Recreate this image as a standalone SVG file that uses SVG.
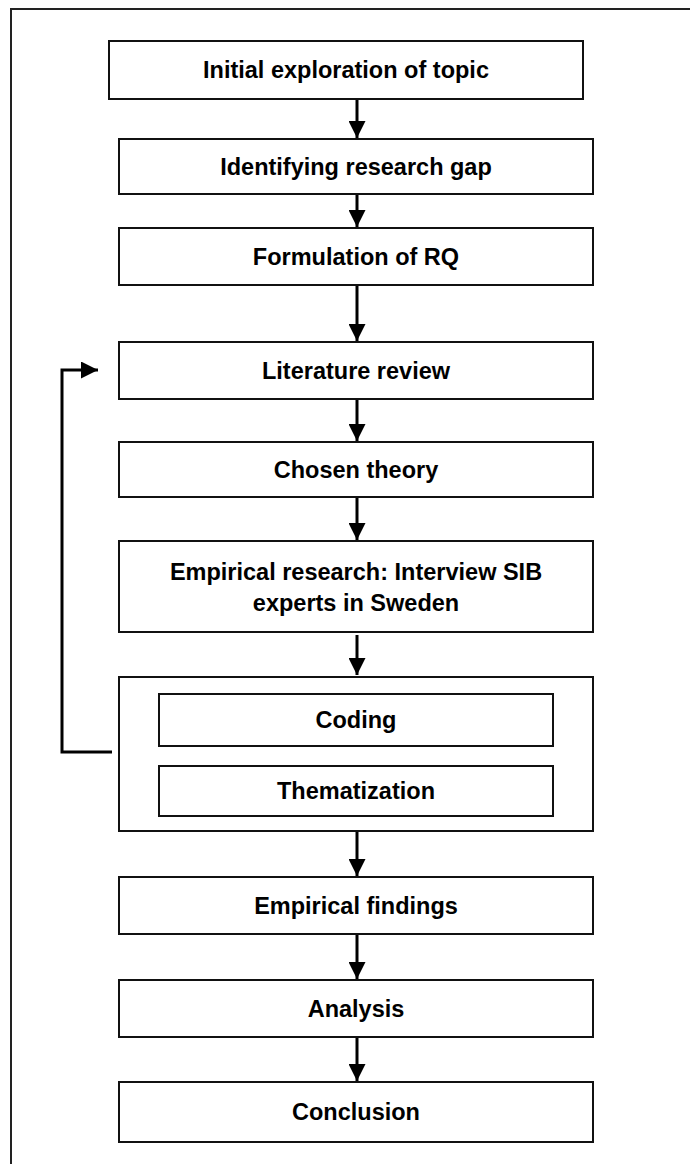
<svg xmlns="http://www.w3.org/2000/svg" width="690" height="1164" viewBox="0 0 690 1164">
<style>
.box{fill:#fff;stroke:#111;stroke-width:2}
.t{font-family:"Liberation Sans",Arial,sans-serif;font-size:23.5px;font-weight:bold;fill:#000;text-anchor:middle;dominant-baseline:central}
.c{fill:none;stroke:#000;stroke-width:3}
</style>
<defs>
<marker id="ah" viewBox="0 0 18 17" refX="17" refY="8.5" markerWidth="18" markerHeight="17" markerUnits="userSpaceOnUse" orient="auto">
<path d="M0,0 L17,8.5 L0,17 Z" fill="#000"/>
</marker>
</defs>
<rect x="11" y="9" width="690" height="1170" fill="#fff" stroke="#222" stroke-width="2"/>
<g id="n1"><rect class="box" x="109" y="41" width="474" height="58"/><text class="t" x="346" y="70">Initial exploration of topic</text></g>
<g id="n2"><rect class="box" x="119" y="139" width="474" height="55"/><text class="t" x="356" y="166.5">Identifying research gap</text></g>
<g id="n3"><rect class="box" x="119" y="228" width="474" height="57"/><text class="t" x="356" y="256.5">Formulation of RQ</text></g>
<g id="n4"><rect class="box" x="119" y="342" width="474" height="57"/><text class="t" x="356" y="370.5">Literature review</text></g>
<g id="n5"><rect class="box" x="119" y="442" width="474" height="55"/><text class="t" x="356" y="469.5">Chosen theory</text></g>
<g id="n6"><rect class="box" x="119" y="541" width="474" height="91"/><text class="t" x="356" y="572">Empirical research: Interview SIB</text><text class="t" x="356" y="603">experts in Sweden</text></g>
<g id="n7"><rect class="box" x="119" y="677" width="474" height="154"/></g>
<g id="n8"><rect class="box" x="159" y="694" width="394" height="52"/><text class="t" x="356" y="720">Coding</text></g>
<g id="n9"><rect class="box" x="159" y="766" width="394" height="50"/><text class="t" x="356" y="791">Thematization</text></g>
<g id="n10"><rect class="box" x="119" y="877" width="474" height="57"/><text class="t" x="356" y="905.5">Empirical findings</text></g>
<g id="n11"><rect class="box" x="119" y="980" width="474" height="57"/><text class="t" x="356" y="1008.5">Analysis</text></g>
<g id="n12"><rect class="box" x="119" y="1082" width="474" height="60"/><text class="t" x="356" y="1112">Conclusion</text></g>
<g id="connectors">
<line class="c" x1="357" y1="100" x2="357" y2="138" marker-end="url(#ah)"/>
<line class="c" x1="357" y1="195" x2="357" y2="227" marker-end="url(#ah)"/>
<line class="c" x1="357" y1="286" x2="357" y2="341" marker-end="url(#ah)"/>
<line class="c" x1="357" y1="400" x2="357" y2="441" marker-end="url(#ah)"/>
<line class="c" x1="357" y1="498" x2="357" y2="540" marker-end="url(#ah)"/>
<line class="c" x1="357" y1="635" x2="357" y2="675" marker-end="url(#ah)"/>
<line class="c" x1="357" y1="832" x2="357" y2="876" marker-end="url(#ah)"/>
<line class="c" x1="357" y1="935" x2="357" y2="979" marker-end="url(#ah)"/>
<line class="c" x1="357" y1="1038" x2="357" y2="1081" marker-end="url(#ah)"/>
<polyline class="c" points="112,752 62,752 62,370 98,370" marker-end="url(#ah)"/>
</g>
</svg>
